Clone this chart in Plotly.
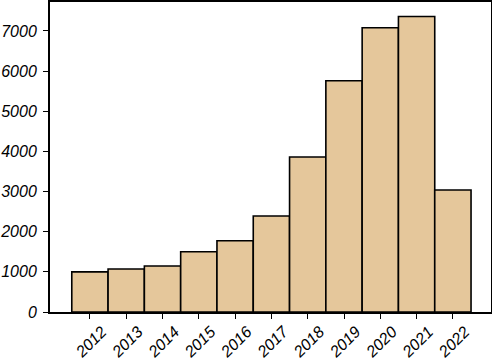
import plotly.graph_objects as go

years = [2012, 2013, 2014, 2015, 2016, 2017, 2018, 2019, 2020, 2021, 2022]
counts = [1000, 1070, 1145, 1500, 1775, 2390, 3860, 5760, 7080, 7360, 3040]
ytick_vals = [0, 1000, 2000, 3000, 4000, 5000, 6000, 7000]

fig = go.Figure(go.Bar(
    x=years, y=counts, width=1,
    marker=dict(color="#E5C79B", line=dict(color="black", width=1.6)),
))
font = dict(family="Liberation Sans", size=16, color="black")
fig.update_layout(
    width=492, height=358,
    margin=dict(l=50, r=1, t=2, b=46),
    paper_bgcolor="white", plot_bgcolor="white",
    showlegend=False, font=font,
)
fig.update_xaxes(
    range=[2010.9, 2023.05], tickvals=years,
    ticktext=["<i>%d</i>" % y for y in years],
    tickangle=-45, ticks="outside", ticklen=5, tickcolor="black", tickwidth=1.2,
    ticklabelshift=12, ticklabelstandoff=-3,
    showline=True, linecolor="black", linewidth=2, mirror=True,
    showgrid=False, zeroline=False, tickfont=font, automargin=False,
)
fig.update_yaxes(
    range=[0, 7720], tickvals=ytick_vals,
    ticktext=["<i>%d</i>" % v for v in ytick_vals],
    ticks="outside", ticklen=5, tickcolor="black", tickwidth=1.2,
    ticklabelstandoff=3,
    showline=True, linecolor="black", linewidth=2, mirror=True,
    showgrid=False, zeroline=False, tickfont=font, automargin=False,
)
fig.write_html("out.html", config={"displayModeBar": False},
               post_script="document.body.style.margin='0';")
